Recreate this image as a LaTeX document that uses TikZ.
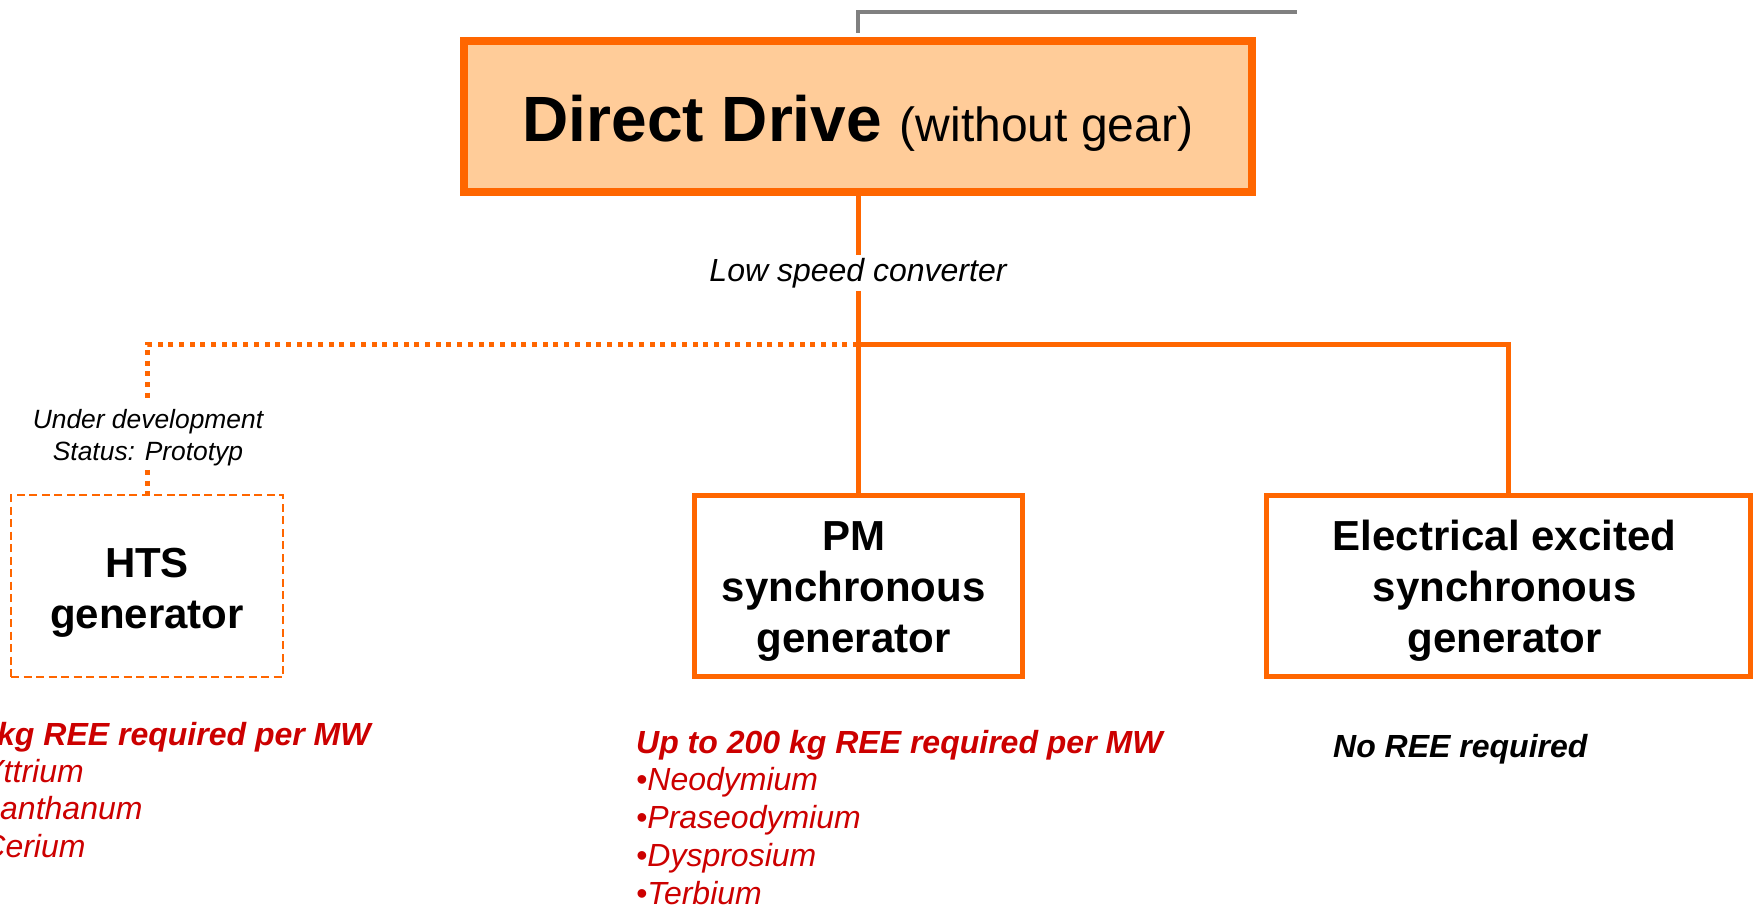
\documentclass[tikz,border=0pt]{standalone}
\usepackage{fontspec}
\setmainfont{Liberation Sans}
\definecolor{dor}{HTML}{FF6600}
\definecolor{peach}{HTML}{FFCC99}
\definecolor{rtext}{HTML}{CC0000}
\definecolor{gline}{HTML}{808080}
\tikzset{
  mainbox/.style={draw=dor, fill=peach, line width=8pt, minimum width=788pt, minimum height=151pt,
    inner sep=0pt, text height=56pt, text depth=5pt, font=\fontsize{64}{70}\selectfont\bfseries},
  genbox/.style={draw=dor, line width=5pt, inner sep=0pt, minimum height=180.5pt,
    text height=30pt, text depth=100pt, font=\fontsize{42}{51}\selectfont\bfseries},
  htsbox/.style={draw=dor, line width=2pt, dash pattern=on 8pt off 4.5pt, inner sep=0pt,
    minimum width=272pt, minimum height=182pt, text height=30pt, text depth=48pt,
    font=\fontsize{42}{51}\selectfont\bfseries},
  conn/.style={draw=dor, line width=5pt},
  dotconn/.style={draw=dor, line width=5pt, dash pattern=on 5pt off 5.7pt},
  grayconn/.style={draw=gline, line width=3.5pt},
  lsclabel/.style={inner xsep=0pt, inner ysep=3pt, font=\fontsize{32}{38}\selectfont\itshape},
  statlabel/.style={inner sep=0pt, font=\fontsize{26.4}{32}\selectfont\itshape},
  reelist/.style={inner sep=0pt, anchor=base west, text=rtext, font=\fontsize{32}{37.8}\selectfont\itshape},
  reehead/.style={inner sep=0pt, anchor=base west, font=\fontsize{32}{37.8}\selectfont\bfseries\itshape}
}
\begin{document}
\begin{tikzpicture}[x=1pt,y=-1pt]
\useasboundingbox (0,0) rectangle (1753,915);
\clip (0,0) rectangle (1753,915);

% nodes
\node[mainbox] (main) at (858,116.5) {Direct Drive {\fontsize{48}{56}\selectfont\mdseries (without gear)}};
\node[lsclabel, anchor=base] (lsc) at (858,281) {Low speed converter};
\coordinate (j) at (858,344);
\coordinate (grend) at (1297,12);

\node[genbox, minimum width=328pt] (pm) at (858,585.75)
  {\begin{tabular}[t]{@{}c@{\hspace{9pt}}}PM\\synchronous\\generator\end{tabular}};
\node[genbox, minimum width=484pt] (ee) at (1508.5,585.75)
  {\begin{tabular}[t]{@{}c@{\hspace{8pt}}}Electrical excited\\synchronous\\generator\end{tabular}};
\node[htsbox] (hts) at (147,586)
  {\begin{tabular}[t]{@{}c@{}}HTS\\generator\end{tabular}};
\node[statlabel, anchor=base] (status) at (148,428)
  {\begin{tabular}[t]{@{}c@{}}Under development\\Status: Prototyp\end{tabular}};

% connectors
\draw[grayconn, shorten <=4pt] (main.north) |- (grend);
\draw[conn] (main.south) -- (lsc.north);
\draw[conn] (lsc.south) -- (j) -- (pm.north);
\draw[conn] (j) -| (ee.north);
\draw[dotconn, shorten >=5.6pt] (j) -| (hts.north |- status.north);
\draw[dotconn] (hts.north |- status.south) -- (hts.north);

% REE texts
\node[reehead, text=rtext] (lhead) at (-3,745) {kg REE required per MW};
\node[reelist] (llist) at (-29,782)
  {\begin{tabular}[t]{@{}l@{}}•Yttrium\\•Lanthanum\\•Cerium\end{tabular}};
\node[reelist] (plist) at (636,753)
  {\begin{tabular}[t]{@{}l@{}}\bfseries Up to 200 kg REE required per MW\\•Neodymium\\•Praseodymium\\•Dysprosium\\•Terbium\end{tabular}};
\node[reehead, text=black] (enote) at (1333,757) {No REE required};
\end{tikzpicture}
\end{document}
